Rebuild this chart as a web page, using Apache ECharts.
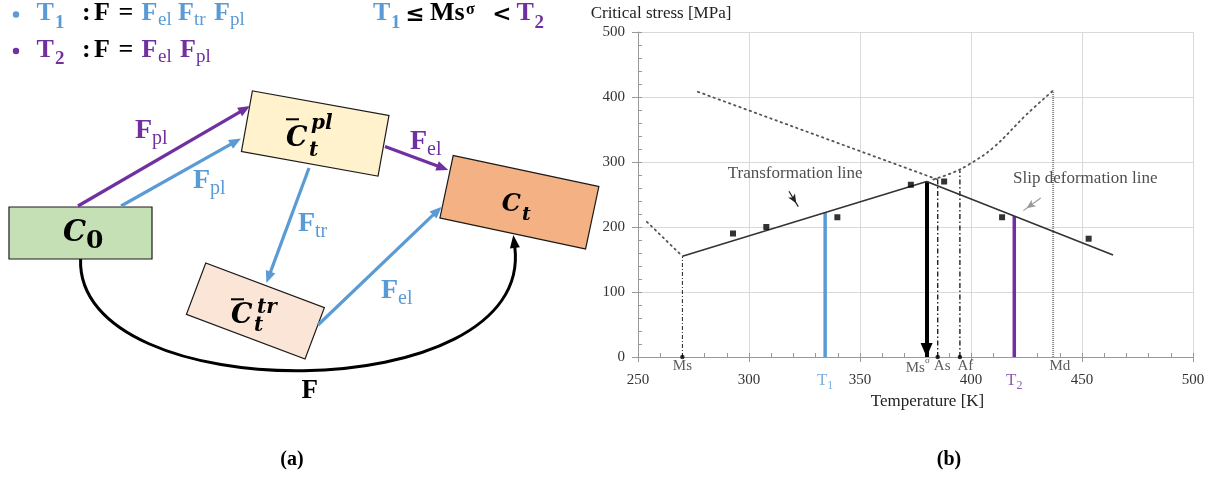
<!DOCTYPE html>
<html><head><meta charset="utf-8">
<script src="https://cdn.jsdelivr.net/npm/echarts@6/dist/echarts.min.js"></script>
<style>html,body{margin:0;padding:0;background:#fff}#c{width:1217px;height:479px}</style>
</head><body><div id="c"></div>
<script>
// ---------------- data (panel b) ----------------
const tempRange = [250, 500];
const tempStep = 50;
const stressRange = [0, 500];
const stressStep = 100;
const sampleTemp   = [292.8, 307.8, 339.8, 372.9, 387.9, 414.0, 453.0];
const sampleStress = [190, 200, 215, 265, 270, 215, 182];
const trendTemp    = [270, 380, 464];
const trendStress  = [155, 270, 157];
const descDotTemp   = [277, 385];
const descDotStress = [408, 273];
const riseDotTemp   = [383, 392, 399, 410, 425, 437];
const riseDotStress = [273, 284, 296, 322, 373, 410];
const lowDotTemp    = [254, 270];
const lowDotStress  = [208, 155];
const markerNames   = ['Ms', 'As', 'Af', 'Md'];
const markerTemp    = [270, 385, 395, 437];
const markerTop     = [155, 276, 287, 410];
const markerLabelTemp = [270, 387, 397.5, 440];
const msSigmaTemp = 380, msSigmaTop = 270, msSigmaLabelTemp = 376;
const t1Temp = 334.3, t1Stress = 222;
const t2Temp = 419.5, t2Stress = 217;
const noteTexts  = ['Transformation line', 'Slip deformation line'];
const noteTemp   = [320.8, 451.5];
const noteStress = [283, 275];
const noteArrowFrom = [[318, 255], [431.4, 244.6]];
const noteArrowTo   = [[322.2, 231.4], [423.6, 225.2]];

const BLUE = '#5b9bd5', PURPLE = '#7030a0';
const SERIF = '"Liberation Serif", "Times New Roman", serif';
const MATH = '"DejaVu Serif", serif';
const zip = (a, b) => a.map((v, i) => [v, b[i]]);

// ---------------- helpers for panel a ----------------
function tk(text, x, base, size, color, o) {
  o = o || {};
  return {type: 'text', z: 5, x: x, y: base - 0.34 * size,
    style: {text: text, fill: color, fontSize: size, fontFamily: o.f || SERIF,
      fontWeight: o.b ? 'bold' : 'normal', fontStyle: o.i ? 'italic' : 'normal',
      align: o.a || 'left', verticalAlign: 'middle'}};
}
function box(cx, cy, w, h, deg, fill) {
  return {type: 'rect', z: 2, x: cx, y: cy, rotation: -deg * Math.PI / 180,
    shape: {x: -w / 2, y: -h / 2, width: w, height: h},
    style: {fill: fill, stroke: '#1a1a1a', lineWidth: 1.2}};
}
function head(x2, y2, ux, uy, color, hl, hw) {
  const bx = x2 - ux * hl, by = y2 - uy * hl;
  return {type: 'polygon', z: 3, shape: {points: [[x2, y2], [bx - uy * hw / 2, by + ux * hw / 2], [bx + uy * hw / 2, by - ux * hw / 2]]}, style: {fill: color}};
}
function arrow(x1, y1, x2, y2, color, lw, hl, hw) {
  const dx = x2 - x1, dy = y2 - y1, L = Math.hypot(dx, dy), ux = dx / L, uy = dy / L;
  const bx = x2 - ux * hl, by = y2 - uy * hl;
  return [
    {type: 'line', z: 3, shape: {x1: x1, y1: y1, x2: bx + ux * 2, y2: by + uy * 2}, style: {stroke: color, lineWidth: lw}},
    head(x2, y2, ux, uy, color, hl, hw)
  ];
}
function overbar(x1, x2, y) {
  return {type: 'line', z: 5, shape: {x1: x1, y1: y, x2: x2, y2: y}, style: {stroke: '#000', lineWidth: 2}};
}
function bullet(cx, cy, color) {
  return {type: 'circle', z: 5, shape: {cx: cx, cy: cy, r: 3.2}, style: {fill: color}};
}

const graphics = [];
// boxes
graphics.push({type: 'rect', z: 2, shape: {x: 9, y: 207, width: 143, height: 52}, style: {fill: '#c5e0b4', stroke: '#1a1a1a', lineWidth: 1.2}});
graphics.push(box(315.2, 133.5, 138.8, 61.5, 10.25, '#fff2cc'));
graphics.push(box(519.4, 202.3, 148.9, 63.9, 12, '#f4b183'));
graphics.push(box(255.4, 311, 126.7, 55, 20.6, '#fbe5d6'));
// arrows
graphics.push(...arrow(78, 206, 250, 106, PURPLE, 3.2, 12, 10));
graphics.push(...arrow(121, 206, 241, 138.5, BLUE, 3.2, 12, 10));
graphics.push(...arrow(385, 146.5, 448.3, 170, PURPLE, 3.2, 12, 10));
graphics.push(...arrow(309, 168, 266.4, 283, BLUE, 3.2, 12, 10));
graphics.push(...arrow(318, 325, 441.7, 206.7, BLUE, 3.2, 12, 10));
// big curve F
graphics.push({type: 'bezierCurve', z: 1, shape: {x1: 80.6, y1: 259, cpx1: 75, cpy1: 410, cpx2: 535, cpy2: 410, x2: 514.8, y2: 247}, style: {stroke: '#000', lineWidth: 3, fill: null}});
(function () { const dx = 513.3 - 514.8, dy = 235 - 247, L = Math.hypot(dx, dy); graphics.push(head(513.3, 235, dx / L, dy / L, '#000', 13, 10)); })();
// arrow labels
graphics.push(tk('F', 135, 140, 28, PURPLE, {b: 1}), tk('pl', 152, 146, 20, PURPLE));
graphics.push(tk('F', 193, 190, 28, BLUE, {b: 1}), tk('pl', 210, 196, 20, BLUE));
graphics.push(tk('F', 410, 151.7, 28, PURPLE, {b: 1}), tk('el', 427, 157, 20, PURPLE));
graphics.push(tk('F', 298, 233, 28, BLUE, {b: 1}), tk('tr', 315, 239, 20, BLUE));
graphics.push(tk('F', 381, 300, 28, BLUE, {b: 1}), tk('el', 398, 306, 20, BLUE));
graphics.push(tk('F', 301.5, 400, 27, '#000', {b: 1}));
// box labels
graphics.push(tk('C', 63, 243, 29, '#000', {b: 1, i: 1, f: MATH}), tk('0', 86, 250, 25, '#000', {b: 1, f: MATH}));
graphics.push(overbar(286, 299, 119.3), tk('C', 286, 148.3, 27, '#000', {b: 1, i: 1, f: MATH}),
  tk('pl', 311, 131, 20, '#000', {b: 1, i: 1, f: MATH}), tk('t', 309, 158, 20, '#000', {b: 1, i: 1, f: MATH}));
graphics.push(tk('C', 501.7, 212.7, 24, '#000', {b: 1, i: 1, f: MATH}), tk('t', 522, 221.7, 19, '#000', {b: 1, i: 1, f: MATH}));
graphics.push(overbar(231, 244, 299.3), tk('C', 231, 325, 27, '#000', {b: 1, i: 1, f: MATH}),
  tk('tr', 257, 315, 20, '#000', {b: 1, i: 1, f: MATH}), tk('t', 254, 333, 20, '#000', {b: 1, i: 1, f: MATH}));
// formulas
const r1 = 22.5, r2 = 59;
const FS = 26, SS = 19;
graphics.push(bullet(16, r1 - 8, BLUE), tk('T', 36.4, r1, FS, BLUE, {b: 1}), tk('1', 55, r1 + 7, SS, BLUE, {b: 1}),
  tk(':', 82, r1, FS, '#000', {b: 1}), tk('F', 94, r1, FS, '#000', {b: 1}), tk('=', 126, r1, FS, '#000', {b: 1, a: 'center'}),
  tk('F', 141.6, r1, FS, BLUE, {b: 1}), tk('el', 158, r1 + 4, SS, BLUE),
  tk('F', 178, r1, FS, BLUE, {b: 1}), tk('tr', 194, r1 + 4, SS, BLUE),
  tk('F', 214, r1, FS, BLUE, {b: 1}), tk('pl', 230, r1 + 4, SS, BLUE));
graphics.push(bullet(16, r2 - 8, PURPLE), tk('T', 36.4, r2, FS, PURPLE, {b: 1}), tk('2', 55, r2 + 7, SS, PURPLE, {b: 1}),
  tk(':', 82, r2, FS, '#000', {b: 1}), tk('F', 94, r2, FS, '#000', {b: 1}), tk('=', 126, r2, FS, '#000', {b: 1, a: 'center'}),
  tk('F', 141.6, r2, FS, PURPLE, {b: 1}), tk('el', 158, r2 + 4, SS, PURPLE),
  tk('F', 180, r2, FS, PURPLE, {b: 1}), tk('pl', 196, r2 + 4, SS, PURPLE));
graphics.push(tk('T', 373, r1, FS, BLUE, {b: 1}), tk('1', 391, r1 + 7, SS, BLUE, {b: 1}),
  tk('≤', 415, r1, 23, '#000', {b: 1, a: 'center', f: MATH}), tk('Ms', 430, r1, FS, '#000', {b: 1}),
  tk('σ', 466, r1 - 7, 16, '#000', {b: 1}), tk('<', 502, r1, 23, '#000', {b: 1, a: 'center', f: MATH}),
  tk('T', 516.6, r1, FS, PURPLE, {b: 1}), tk('2', 534.5, r1 + 7, SS, PURPLE, {b: 1}));
// panel captions
graphics.push(tk('(a)', 292, 467, 20, '#000', {b: 1, a: 'center'}), tk('(b)', 949, 467, 20, '#000', {b: 1, a: 'center'}));

// ---------------- chart (panel b) ----------------
const tickLabel = {fontFamily: SERIF, fontSize: 15, color: '#333'};
const dotted = {color: '#555', width: 1.8, type: [1.5, 4], cap: 'round'};
function vline(t, top, style, z) {
  return {type: 'line', data: [[t, 0], [t, top]], symbol: 'none', lineStyle: style, z: z || 3, silent: true};
}
const series = [
  {type: 'line', data: zip(descDotTemp, descDotStress), symbol: 'none', lineStyle: dotted, silent: true},
  {type: 'line', data: zip(riseDotTemp, riseDotStress), symbol: 'none', smooth: 0.4, lineStyle: dotted, silent: true},
  {type: 'line', data: zip(lowDotTemp, lowDotStress), symbol: 'none', lineStyle: dotted, silent: true},
  vline(markerTemp[0], markerTop[0], {color: '#222', width: 1, type: [4, 2, 1, 2]}),
  vline(markerTemp[1], markerTop[1], {color: '#222', width: 1.4, type: [5, 2.5, 1.5, 2.5]}),
  vline(markerTemp[2], markerTop[2], {color: '#222', width: 1.4, type: [5, 2.5, 1.5, 2.5]}),
  vline(markerTemp[3], markerTop[3], {color: '#888', width: 2, type: [1, 1]}),
  vline(t1Temp, t1Stress, {color: BLUE, width: 3.5}, 4),
  vline(t2Temp, t2Stress, {color: PURPLE, width: 3.5}, 4),
  {type: 'line', data: zip(trendTemp, trendStress), symbol: 'none', lineStyle: {color: '#333', width: 1.6}, z: 5, silent: true},
  {type: 'scatter', data: zip(sampleTemp, sampleStress), symbol: 'rect', symbolSize: 6, itemStyle: {color: '#000'}, z: 6, silent: true},
  // Ms sigma arrow and annotation arrows
  {type: 'line', data: [], z: 6, markLine: {silent: true, animation: false, label: {show: false},
    data: [
      [{coord: [msSigmaTemp, msSigmaTop], symbol: 'none', lineStyle: {color: '#000', width: 4, type: 'solid'}},
       {coord: [msSigmaTemp, 0], symbol: 'triangle', symbolSize: [12, 14], symbolOffset: [0, 7]}],
      [{coord: noteArrowFrom[0], symbol: 'none', lineStyle: {color: '#222', width: 1.2, type: 'solid'}},
       {coord: noteArrowTo[0], symbol: 'arrow', symbolSize: [6, 9], symbolOffset: [0, 4]}],
      [{coord: noteArrowFrom[1], symbol: 'none', lineStyle: {color: '#999', width: 1.2, type: 'solid'}},
       {coord: noteArrowTo[1], symbol: 'arrow', symbolSize: [6, 9], symbolOffset: [0, 4], itemStyle: {color: '#999'}}]
    ]}},
  // dots at axis
  {type: 'scatter', data: [[markerTemp[0], 0], [markerTemp[1], 0], [markerTemp[2], 0]], symbol: 'circle', symbolSize: 4.5,
    itemStyle: {color: '#000'}, z: 7, silent: true},
  // marker labels
  {type: 'scatter', symbolSize: 0, silent: true, z: 7,
    data: markerNames.map((n, i) => ({value: [markerLabelTemp[i], 0], name: n})).concat([{value: [msSigmaLabelTemp, 0], name: 'Msσ'}]),
    label: {show: true, position: 'inside', offset: [0, 9], color: '#333', fontFamily: SERIF, fontSize: 15,
      formatter: p => p.name === 'Msσ' ? '{b|Ms}{s|σ}' : p.name,
      rich: {b: {fontFamily: SERIF, fontSize: 15, color: '#333', verticalAlign: 'top', padding: [4, 0, 0, 0]},
             s: {fontFamily: SERIF, fontSize: 9, color: '#333', verticalAlign: 'top'}}}},
  // T1 / T2 labels
  {type: 'scatter', symbolSize: 0, silent: true, z: 7,
    data: [{value: [t1Temp, 0], name: '1', itemStyle: {color: BLUE}}, {value: [t2Temp, 0], name: '2', itemStyle: {color: PURPLE}}],
    label: {show: true, position: 'inside', offset: [0, 25],
      formatter: p => (p.name === '1' ? '{bt|T}{bs|1}' : '{pt|T}{ps|2}'),
      rich: {bt: {fontFamily: SERIF, fontSize: 17, color: BLUE, verticalAlign: 'top'},
             bs: {fontFamily: SERIF, fontSize: 12, color: BLUE, verticalAlign: 'top', padding: [8, 0, 0, 0]},
             pt: {fontFamily: SERIF, fontSize: 17, color: PURPLE, verticalAlign: 'top'},
             ps: {fontFamily: SERIF, fontSize: 12, color: PURPLE, verticalAlign: 'top', padding: [8, 0, 0, 0]}}}},
  // annotation texts
  {type: 'scatter', symbolSize: 0, silent: true, z: 7,
    data: noteTexts.map((n, i) => ({value: [noteTemp[i], noteStress[i]], name: n})),
    label: {show: true, position: 'inside', formatter: p => p.name, color: '#222', fontFamily: SERIF, fontSize: 17}}
];

const option = {
  animation: false,
  backgroundColor: '#ffffff',
  grid: {left: 638, top: 32, width: 555, height: 325, containLabel: false},
  xAxis: [
    {type: 'value', min: tempRange[0], max: tempRange[1], interval: tempStep, position: 'bottom',
      name: 'Temperature [K]', nameLocation: 'middle', nameGap: 36,
      nameTextStyle: {fontFamily: SERIF, fontSize: 17, color: '#222', padding: [0, 0, 0, 24]},
      axisLine: {lineStyle: {color: '#999'}}, axisTick: {length: 5, lineStyle: {color: '#999'}},
      axisLabel: Object.assign({margin: 16}, tickLabel), splitLine: {show: true, lineStyle: {color: '#d9d9d9'}}},
    {type: 'value', min: tempRange[0], max: tempRange[1], interval: 10, position: 'bottom',
      axisLine: {show: false}, axisTick: {inside: true, length: 4, lineStyle: {color: '#999'}},
      axisLabel: {show: false}, splitLine: {show: false}}
  ],
  yAxis: [
    {type: 'value', min: stressRange[0], max: stressRange[1], interval: stressStep, position: 'left',
      name: 'Critical stress [MPa]', nameLocation: 'end', nameGap: 10,
      nameTextStyle: {fontFamily: SERIF, fontSize: 17, color: '#222', padding: [0, 0, 0, 46]},
      axisLine: {show: true, lineStyle: {color: '#999'}}, axisTick: {show: true, length: 6, lineStyle: {color: '#999'}},
      axisLabel: Object.assign({margin: 13}, tickLabel), splitLine: {show: true, lineStyle: {color: '#d9d9d9'}}},
    {type: 'value', min: stressRange[0], max: stressRange[1], interval: 20, position: 'left',
      axisLine: {show: false}, axisTick: {show: true, inside: true, length: 4, lineStyle: {color: '#999'}},
      axisLabel: {show: false}, splitLine: {show: false}}
  ],
  series: series,
  graphic: {elements: graphics}
};
const chart = echarts.init(document.getElementById('c'), null, {renderer: 'canvas'});
chart.setOption(option);
</script>
</body></html>
